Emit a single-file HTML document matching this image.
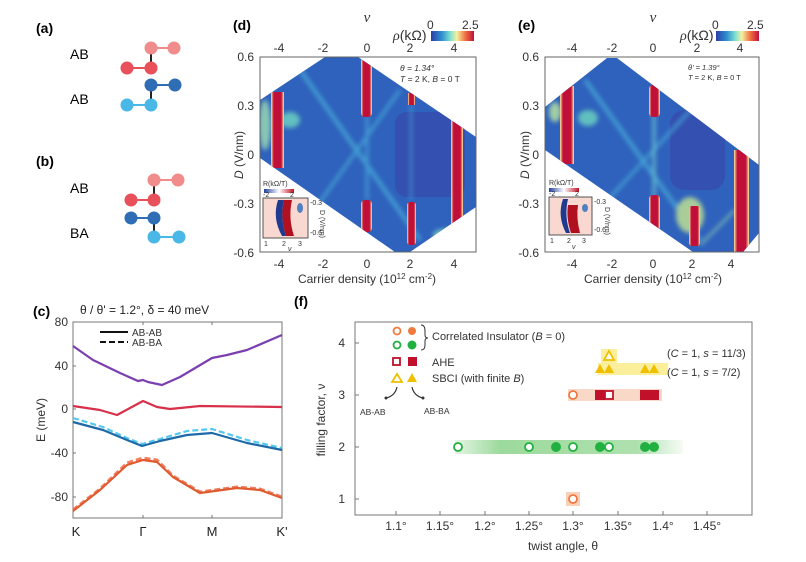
<!DOCTYPE html>
<html><head><meta charset="utf-8"><style>
html,body{margin:0;padding:0;background:#fff}
svg{display:block;font-family:"Liberation Sans",sans-serif}
</style></head><body>
<svg width="806" height="562" viewBox="0 0 806 562" xmlns="http://www.w3.org/2000/svg">
<defs>
<linearGradient id="jet" x1="0" x2="1" y1="0" y2="0">
<stop offset="0" stop-color="#2b3fa8"/><stop offset="0.25" stop-color="#2f8fd0"/><stop offset="0.45" stop-color="#7fe0d0"/><stop offset="0.6" stop-color="#f5f0a0"/><stop offset="0.8" stop-color="#f07040"/><stop offset="1" stop-color="#c0103a"/>
</linearGradient>
<linearGradient id="rb" x1="0" x2="1"><stop offset="0" stop-color="#2040a0"/><stop offset="0.5" stop-color="#fff"/><stop offset="1" stop-color="#c01020"/></linearGradient>
<linearGradient id="gband" x1="0" x2="1"><stop offset="0" stop-color="#4cbb4c" stop-opacity="0.15"/><stop offset="0.2" stop-color="#4cbb4c" stop-opacity="0.55"/><stop offset="0.8" stop-color="#4cbb4c" stop-opacity="0.45"/><stop offset="1" stop-color="#4cbb4c" stop-opacity="0.05"/></linearGradient>
<linearGradient id="band" x1="0" x2="1"><stop offset="0" stop-color="#fde8a0"/><stop offset="0.22" stop-color="#c0103a"/><stop offset="0.78" stop-color="#c0103a"/><stop offset="1" stop-color="#fde8a0"/></linearGradient>
<clipPath id="cd"><polygon points="260,100 325,57 358,57 476,137 476,207 410,252 395,252 260,158"/></clipPath>
<clipPath id="ce"><polygon points="545,107 607,58 617,58 759,165 759,233 743,252 693,252 545,150"/></clipPath>
<filter id="bl"><feGaussianBlur stdDeviation="2.5"/></filter>
</defs>

<g font-size="14" font-weight="bold"><text x="36" y="33">(a)</text><text x="36" y="166">(b)</text><text x="33" y="316">(c)</text><text x="233" y="30">(d)</text><text x="518" y="30">(e)</text><text x="294" y="306">(f)</text></g>
<g font-size="14"><text x="70" y="59">AB</text><text x="70" y="104">AB</text><text x="70" y="193">AB</text><text x="70" y="238">BA</text></g>
<g stroke-width="2">
<line x1="151" y1="48" x2="151" y2="68" stroke="#222"/><line x1="151" y1="85" x2="151" y2="105" stroke="#222"/>
<line x1="151" y1="48" x2="174" y2="48" stroke="#f08c8c"/><line x1="127" y1="68" x2="151" y2="68" stroke="#e8505a"/>
<line x1="151" y1="85" x2="175" y2="85" stroke="#2f6db5"/><line x1="127" y1="105" x2="151" y2="105" stroke="#4ab8e6"/>
<line x1="154" y1="180" x2="154" y2="200" stroke="#222"/><line x1="154" y1="218" x2="154" y2="237" stroke="#222"/>
<line x1="154" y1="180" x2="178" y2="180" stroke="#f08c8c"/><line x1="131" y1="200" x2="154" y2="200" stroke="#e8505a"/>
<line x1="131" y1="218" x2="154" y2="218" stroke="#2f6db5"/><line x1="154" y1="237" x2="179" y2="237" stroke="#4ab8e6"/>
</g>
<g>
<circle cx="151" cy="48" r="6.5" fill="#f08c8c"/><circle cx="174" cy="48" r="6.5" fill="#f08c8c"/>
<circle cx="127" cy="68" r="6.5" fill="#e8505a"/><circle cx="151" cy="68" r="6.5" fill="#e8505a"/>
<circle cx="151" cy="85" r="6.5" fill="#2f6db5"/><circle cx="175" cy="85" r="6.5" fill="#2f6db5"/>
<circle cx="127" cy="105" r="6.5" fill="#4ab8e6"/><circle cx="151" cy="105" r="6.5" fill="#4ab8e6"/>
<circle cx="154" cy="180" r="6.5" fill="#f08c8c"/><circle cx="178" cy="180" r="6.5" fill="#f08c8c"/>
<circle cx="131" cy="200" r="6.5" fill="#e8505a"/><circle cx="154" cy="200" r="6.5" fill="#e8505a"/>
<circle cx="131" cy="218" r="6.5" fill="#2f6db5"/><circle cx="154" cy="218" r="6.5" fill="#2f6db5"/>
<circle cx="154" cy="237" r="6.5" fill="#4ab8e6"/><circle cx="179" cy="237" r="6.5" fill="#4ab8e6"/>
</g>

<!-- panel d -->
<g clip-path="url(#cd)">
<rect x="255" y="50" width="230" height="210" fill="#2f62bd"/>
<rect x="395" y="112" width="70" height="85" rx="12" fill="#3450b0"/>
<g filter="url(#bl)" opacity="0.8">
<line x1="300" y1="70" x2="420" y2="240" stroke="#4ab0d8" stroke-width="4"/>
<line x1="300" y1="230" x2="400" y2="90" stroke="#4ab0d8" stroke-width="3"/>
<ellipse cx="290" cy="120" rx="10" ry="8" fill="#6fd8c0"/>
<ellipse cx="445" cy="235" rx="12" ry="6" fill="#7fe0c0"/>
<ellipse cx="265" cy="125" rx="6" ry="25" fill="#9fe0b0"/>
<line x1="367" y1="115" x2="367" y2="200" stroke="#4aa8d8" stroke-width="3"/>
<line x1="411" y1="105" x2="411" y2="200" stroke="#4aa8d8" stroke-width="2"/>
</g>
<rect x="271" y="92" width="13" height="76" fill="url(#band)"/>
<rect x="361" y="57" width="11" height="60" rx="4" fill="url(#band)"/>
<rect x="361" y="200" width="11" height="32" rx="4" fill="url(#band)"/>
<rect x="408" y="93" width="7" height="12" fill="url(#band)"/>
<rect x="407" y="202" width="9" height="43" rx="3" fill="url(#band)"/>
<rect x="451" y="120" width="12" height="105" fill="url(#band)"/>
</g>
<rect x="260" y="57" width="216" height="195" fill="none" stroke="#666" stroke-width="1"/>
<rect x="263" y="198" width="45" height="40" fill="#f8d8d0" stroke="#555"/>
<path d="M278,200 Q272,218 282,236 L286,236 Q280,218 284,200Z" fill="#203a90"/>
<path d="M284,200 Q280,218 286,236 L294,236 Q288,218 292,200Z" fill="#b01020"/>
<ellipse cx="300" cy="208" rx="3" ry="5" fill="#5080c0"/>
<rect x="264" y="189" width="30" height="4" fill="url(#rb)"/>
<g font-size="7" fill="#333"><text x="263" y="186">R</text><text x="268" y="186">(kΩ/T)</text><text x="263" y="197">-2</text><text x="290" y="197">2</text>
<text x="264" y="246">1</text><text x="282" y="246">2</text><text x="298" y="246">3</text><text x="288" y="251" font-style="italic">ν</text>
<text x="310" y="205">-0.3</text><text x="310" y="235">-0.6</text><text x="320" y="210" transform="rotate(90 320 210)">D (V/nm)</text></g>
<g font-size="12" fill="#333" text-anchor="end"><text x="254" y="61">0.6</text><text x="254" y="110">0.3</text><text x="254" y="159">0</text><text x="254" y="208">-0.3</text><text x="254" y="257">-0.6</text></g>
<g font-size="12" fill="#333" text-anchor="middle"><text x="279" y="268">-4</text><text x="323" y="268">-2</text><text x="367" y="268">0</text><text x="410" y="268">2</text><text x="454" y="268">4</text>
<text x="279" y="52">-4</text><text x="323" y="52">-2</text><text x="367" y="52">0</text><text x="410" y="52">2</text><text x="454" y="52">4</text>
<text x="367" y="283">Carrier density (10<tspan font-size="8" dy="-4">12</tspan><tspan dy="4"> cm</tspan><tspan font-size="8" dy="-4">-2</tspan><tspan dy="4">)</tspan></text>
<text x="367" y="22" font-style="italic" font-family="Liberation Serif" font-size="15">ν</text></g>
<text x="243" y="155" font-size="12" fill="#333" text-anchor="middle" transform="rotate(-90 243 155)"><tspan font-style="italic">D</tspan> (V/nm)</text>
<g font-size="8.5" fill="#333"><text x="400" y="71" font-style="italic">θ = 1.34°</text><text x="400" y="82"><tspan font-style="italic">T</tspan> = 2 K, <tspan font-style="italic">B</tspan> = 0 T</text></g>
<text x="393" y="40" font-size="14" fill="#333"><tspan font-style="italic" font-family="Liberation Serif">ρ</tspan>(kΩ)</text>
<rect x="431" y="31" width="43" height="10" fill="url(#jet)"/>
<g font-size="12" fill="#333"><text x="427" y="29">0</text><text x="462" y="29">2.5</text></g>

<!-- panel e -->
<g clip-path="url(#ce)">
<rect x="540" y="50" width="230" height="210" fill="#2f62bd"/>
<rect x="670" y="110" width="55" height="80" rx="14" fill="#3450b0"/>
<g filter="url(#bl)" opacity="0.8">
<line x1="585" y1="80" x2="700" y2="240" stroke="#4ab0d8" stroke-width="4"/>
<line x1="580" y1="230" x2="700" y2="100" stroke="#4ab0d8" stroke-width="3"/>
<ellipse cx="588" cy="118" rx="10" ry="8" fill="#6fd8c0"/>
<ellipse cx="690" cy="215" rx="14" ry="18" fill="#c8e890"/>
<ellipse cx="555" cy="112" rx="6" ry="10" fill="#bfe8a0"/>
<line x1="654" y1="110" x2="654" y2="200" stroke="#6fd0d0" stroke-width="3"/>
<line x1="700" y1="245" x2="735" y2="210" stroke="#9fe0b0" stroke-width="2"/>
</g>
<rect x="560" y="86" width="14" height="78" fill="url(#band)"/>
<rect x="649" y="85" width="11" height="32" rx="4" fill="url(#band)"/>
<rect x="649" y="195" width="11" height="36" rx="4" fill="url(#band)"/>
<rect x="689" y="206" width="11" height="40" rx="3" fill="url(#band)"/>
<rect x="734" y="150" width="15" height="105" fill="url(#band)"/>
</g>
<rect x="545" y="57" width="214" height="195" fill="none" stroke="#666" stroke-width="1"/>
<rect x="549" y="197" width="43" height="38" fill="#f8d8d0" stroke="#555"/>
<path d="M563,199 Q557,216 566,233 L570,233 Q564,216 568,199Z" fill="#203a90"/>
<path d="M568,205 Q566,218 571,233 L580,233 Q576,218 578,205Z" fill="#b01020"/>
<ellipse cx="585" cy="208" rx="3" ry="4" fill="#5080c0"/>
<rect x="549" y="188" width="30" height="4" fill="url(#rb)"/>
<g font-size="7" fill="#333"><text x="549" y="185">R</text><text x="554" y="185">(kΩ/T)</text><text x="549" y="196">-2</text><text x="575" y="196">2</text>
<text x="550" y="243">1</text><text x="567" y="243">2</text><text x="582" y="243">3</text><text x="572" y="249" font-style="italic">ν</text>
<text x="594" y="204">-0.3</text><text x="594" y="232">-0.6</text><text x="605" y="207" transform="rotate(90 605 207)">D (V/nm)</text></g>
<g font-size="12" fill="#333" text-anchor="end"><text x="539" y="61">0.6</text><text x="539" y="110">0.3</text><text x="539" y="159">0</text><text x="539" y="208">-0.3</text><text x="539" y="257">-0.6</text></g>
<g font-size="12" fill="#333" text-anchor="middle"><text x="572" y="268">-4</text><text x="612" y="268">-2</text><text x="653" y="268">0</text><text x="692" y="268">2</text><text x="731" y="268">4</text>
<text x="572" y="52">-4</text><text x="612" y="52">-2</text><text x="653" y="52">0</text><text x="697" y="52">2</text><text x="740" y="52">4</text>
<text x="653" y="283">Carrier density (10<tspan font-size="8" dy="-4">12</tspan><tspan dy="4"> cm</tspan><tspan font-size="8" dy="-4">-2</tspan><tspan dy="4">)</tspan></text>
<text x="653" y="22" font-style="italic" font-family="Liberation Serif" font-size="15">ν</text></g>
<text x="529" y="155" font-size="12" fill="#333" text-anchor="middle" transform="rotate(-90 529 155)"><tspan font-style="italic">D</tspan> (V/nm)</text>
<g font-size="7.5" fill="#333"><text x="688" y="70" font-style="italic">θ' = 1.39°</text><text x="688" y="80"><tspan font-style="italic">T</tspan> = 2 K, <tspan font-style="italic">B</tspan> = 0 T</text></g>
<text x="680" y="40" font-size="14" fill="#333"><tspan font-style="italic" font-family="Liberation Serif">ρ</tspan>(kΩ)</text>
<rect x="716" y="31" width="43" height="10" fill="url(#jet)"/>
<g font-size="12" fill="#333"><text x="712" y="29">0</text><text x="747" y="29">2.5</text></g>

<!-- panel c -->
<text x="80" y="314" font-size="12" fill="#222">θ / θ' = 1.2°, δ = 40 meV</text>
<rect x="73" y="322" width="209" height="196" fill="none" stroke="#777"/>
<g stroke="#777"><line x1="143" y1="322" x2="143" y2="325"/><line x1="212" y1="322" x2="212" y2="325"/><line x1="143" y1="518" x2="143" y2="515"/><line x1="212" y1="518" x2="212" y2="515"/>
<line x1="73" y1="366" x2="76" y2="366"/><line x1="73" y1="409" x2="76" y2="409"/><line x1="73" y1="453" x2="76" y2="453"/><line x1="73" y1="497" x2="76" y2="497"/></g>
<g font-size="12" fill="#333" text-anchor="end"><text x="68" y="326">80</text><text x="68" y="370">40</text><text x="68" y="413">0</text><text x="68" y="457">-40</text><text x="68" y="501">-80</text></g>
<g font-size="13" fill="#222" text-anchor="middle"><text x="76" y="536">K</text><text x="143" y="536">Γ</text><text x="212" y="536">M</text><text x="282" y="536">K'</text></g>
<text x="45" y="420" font-size="12" fill="#333" text-anchor="middle" transform="rotate(-90 45 420)">E  (meV)</text>
<line x1="100" y1="332" x2="128" y2="332" stroke="#111" stroke-width="2"/>
<line x1="100" y1="342" x2="128" y2="342" stroke="#111" stroke-width="2" stroke-dasharray="6,3"/>
<g font-size="10" fill="#333"><text x="132" y="336">AB-AB</text><text x="132" y="346">AB-BA</text></g>
<g fill="none" stroke-width="2.2" stroke-linejoin="round">
<polyline stroke="#7a3fb0" points="73,346 93,360 120,373 138,381 143,380 148,382 162,385 180,377 212,358 227,355 247,350 282,335"/>
<polyline stroke="#d8304a" points="73,406 100,410 117,415 130,408 143,401 157,407 170,409 200,406 282,407"/>
<polyline stroke="#56c8f0" stroke-dasharray="6,3" points="73,418 103,427 127,438 142,444 160,439 187,431 212,429 247,440 282,448"/>
<polyline stroke="#1e6aa8" points="73,422 103,430 127,440 142,446 160,441 187,435 212,433 247,443 282,450"/>
<polyline stroke="#f08060" stroke-dasharray="6,3" stroke-width="3" points="73,510 100,489 127,463 143,458 157,460 173,476 200,492 237,487 260,489 282,497"/>
<polyline stroke="#e05a30" points="73,511 100,490 127,465 143,460 157,462 173,477 200,493 237,488 260,490 282,498"/>
</g>

<!-- panel f -->
<rect x="355" y="322" width="397" height="193" fill="none" stroke="#777"/>
<g stroke="#777">
<line x1="396" y1="515" x2="396" y2="511"/><line x1="440" y1="515" x2="440" y2="511"/><line x1="485" y1="515" x2="485" y2="511"/><line x1="529" y1="515" x2="529" y2="511"/><line x1="573" y1="515" x2="573" y2="511"/><line x1="618" y1="515" x2="618" y2="511"/><line x1="663" y1="515" x2="663" y2="511"/><line x1="707" y1="515" x2="707" y2="511"/>
<line x1="355" y1="343" x2="359" y2="343"/><line x1="355" y1="395" x2="359" y2="395"/><line x1="355" y1="447" x2="359" y2="447"/><line x1="355" y1="499" x2="359" y2="499"/></g>
<g font-size="12" fill="#333" text-anchor="middle"><text x="396" y="530">1.1°</text><text x="440" y="530">1.15°</text><text x="485" y="530">1.2°</text><text x="529" y="530">1.25°</text><text x="573" y="530">1.3°</text><text x="618" y="530">1.35°</text><text x="663" y="530">1.4°</text><text x="707" y="530">1.45°</text>
<text x="563" y="550">twist angle, θ</text></g>
<g font-size="12" fill="#333" text-anchor="end"><text x="345" y="347">4</text><text x="345" y="399">3</text><text x="345" y="451">2</text><text x="345" y="503">1</text></g>
<text x="325" y="420" font-size="12" fill="#333" text-anchor="middle" transform="rotate(-90 325 420)">filling factor, ν</text>
<rect x="455" y="440" width="228" height="14" fill="url(#gband)"/>
<rect x="568" y="389" width="94" height="12" fill="#f8c8b0" opacity="0.7"/>
<rect x="598" y="363" width="70" height="12" fill="#fbe870" opacity="0.7"/>
<rect x="601" y="349" width="16" height="14" fill="#fbe870" opacity="0.7"/>
<rect x="566" y="492" width="14" height="14" fill="#fbd0b8"/>
<g stroke-width="1.8">
<circle cx="573" cy="499" r="4" fill="#fff" stroke="#ee7a40"/>
<g fill="#fff" stroke="#22b040"><circle cx="458" cy="447" r="4"/><circle cx="529" cy="447" r="4"/><circle cx="573" cy="447" r="4"/><circle cx="609" cy="447" r="4"/></g>
<g fill="#22b040"><circle cx="556" cy="447" r="5"/><circle cx="600" cy="447" r="5"/><circle cx="645" cy="447" r="5"/><circle cx="654" cy="447" r="5"/></g>
<circle cx="573" cy="395" r="4" fill="#fff" stroke="#ee7a40"/>
<g fill="#c0102a"><rect x="595" y="390" width="10" height="10"/><rect x="640" y="390" width="10" height="10"/><rect x="649" y="390" width="10" height="10"/></g>
<rect x="605" y="391" width="8" height="8" fill="#fff" stroke="#c0102a"/>
<g fill="#f0c000"><polygon points="600,364 605,373 595,373"/><polygon points="645,364 650,373 640,373"/><polygon points="654,364 659,373 649,373"/></g>
<polygon points="609,364 614,373 604,373" fill="#f0c000"/>
<polygon points="609,351 614,360 604,360" fill="#fff" stroke="#f0c000"/>
<circle cx="397" cy="331" r="3.5" fill="#fff" stroke="#ee7a40"/><circle cx="412" cy="331" r="4" fill="#ee7a40"/>
<circle cx="397" cy="345" r="3.5" fill="#fff" stroke="#22b040"/><circle cx="412" cy="345" r="4.5" fill="#22b040"/>
<rect x="393" y="358" width="7" height="7" fill="#fff" stroke="#c0102a"/><rect x="408" y="357" width="9" height="9" fill="#c0102a"/>
<polygon points="397,374 402,382 392,382" fill="#fff" stroke="#f0c000"/><polygon points="412,373 417,382 407,382" fill="#f0c000"/>
</g>
<path d="M421,325 Q425,325 425,331 L425,335 Q425,338 428,338 Q425,338 425,341 L425,345 Q425,350 421,350" fill="none" stroke="#333"/>
<g font-size="11" fill="#333"><text x="432" y="340">Correlated Insulator (<tspan font-style="italic">B</tspan> = 0)</text><text x="432" y="366">AHE</text><text x="432" y="382">SBCI (with finite <tspan font-style="italic">B</tspan>)</text>
<text x="667" y="357">(<tspan font-style="italic">C</tspan> = 1, <tspan font-style="italic">s</tspan> = 11/3)</text><text x="667" y="376">(<tspan font-style="italic">C</tspan> = 1, <tspan font-style="italic">s</tspan> = 7/2)</text></g>
<path d="M397,387 Q395,396 386,398" fill="none" stroke="#333" stroke-width="1.2"/><circle cx="386" cy="398" r="1.5" fill="#333"/>
<path d="M412,387 Q414,396 423,398" fill="none" stroke="#333" stroke-width="1.2"/><circle cx="423" cy="398" r="1.5" fill="#333"/>
<g font-size="8.5" fill="#333"><text x="360" y="415">AB-AB</text><text x="424" y="414">AB-BA</text></g>
</svg>
</body></html>
